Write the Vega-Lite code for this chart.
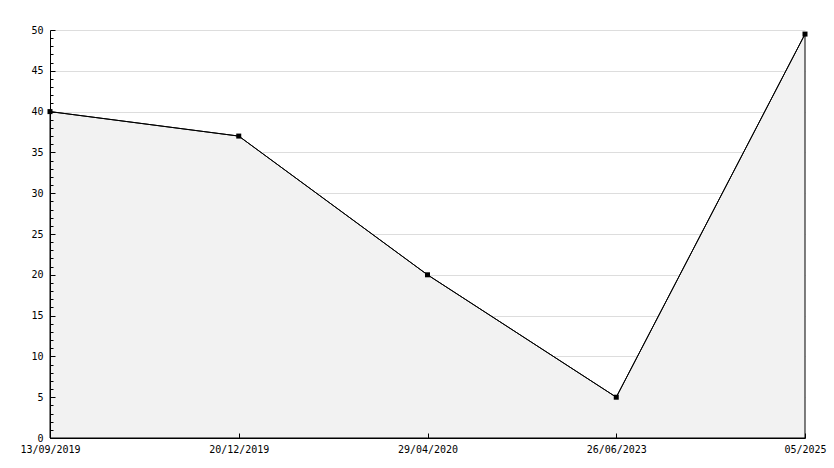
{
  "$schema": "https://vega.github.io/schema/vega-lite/v6.json",
  "autosize": "none",
  "width": 755,
  "height": 408,
  "padding": {"left": 50, "top": 30, "right": 29, "bottom": 30},
  "background": "white",
  "config": {
    "view": {"stroke": null},
    "font": "DejaVu Sans Mono",
    "axis": {
      "labelFont": "DejaVu Sans Mono",
      "labelFontSize": 10,
      "labelColor": "black",
      "domainColor": "black",
      "domainWidth": 1,
      "tickColor": "black",
      "title": null
    }
  },
  "data": {
    "values": [
      {"date": "13/09/2019", "value": 40},
      {"date": "20/12/2019", "value": 37},
      {"date": "29/04/2020", "value": 20},
      {"date": "26/06/2023", "value": 5},
      {"date": "05/2025", "value": 49.5}
    ]
  },
  "encoding": {
    "x": {
      "field": "date",
      "type": "ordinal",
      "sort": null,
      "scale": {"type": "point", "padding": 0},
      "axis": {
        "labelAngle": 0,
        "tickSize": -5,
        "labelPadding": 11,
        "grid": false,
        "zindex": 1
      }
    }
  },
  "layer": [
    {
      "mark": {"type": "area", "color": "#f2f2f2", "stroke": "black", "strokeWidth": 1, "fillOpacity": 1},
      "encoding": {
        "y": {
          "field": "value",
          "type": "quantitative",
          "scale": {"domain": [0, 50], "nice": false, "zero": true},
          "axis": {
            "orient": "right",
            "values": [5, 10, 15, 20, 25, 30, 35, 40, 45, 50],
            "grid": true,
            "gridColor": "#dddddd",
            "ticks": false,
            "labels": false,
            "domain": false,
            "zindex": 0
          }
        }
      }
    },
    {
      "mark": {"type": "line", "color": "black", "strokeWidth": 1},
      "encoding": {
        "y": {
          "field": "value",
          "type": "quantitative",
          "axis": {
            "orient": "left",
            "values": [0,1,2,3,4,5,6,7,8,9,10,11,12,13,14,15,16,17,18,19,20,21,22,23,24,25,26,27,28,29,30,31,32,33,34,35,36,37,38,39,40,41,42,43,44,45,46,47,48,49,50],
            "labelExpr": "datum.value % 5 === 0 ? datum.label : ''",
            "labelOverlap": false,
            "labelPadding": 12,
            "tickSize": {"condition": {"test": "datum.value % 5 === 0", "value": -5}, "value": -3},
            "grid": false,
            "zindex": 1
          }
        }
      }
    },
    {
      "mark": {"type": "point", "shape": "square", "filled": true, "color": "black", "size": 25, "opacity": 1},
      "encoding": {"y": {"field": "value", "type": "quantitative", "axis": null}}
    }
  ],
  "resolve": {"axis": {"y": "independent"}}
}
